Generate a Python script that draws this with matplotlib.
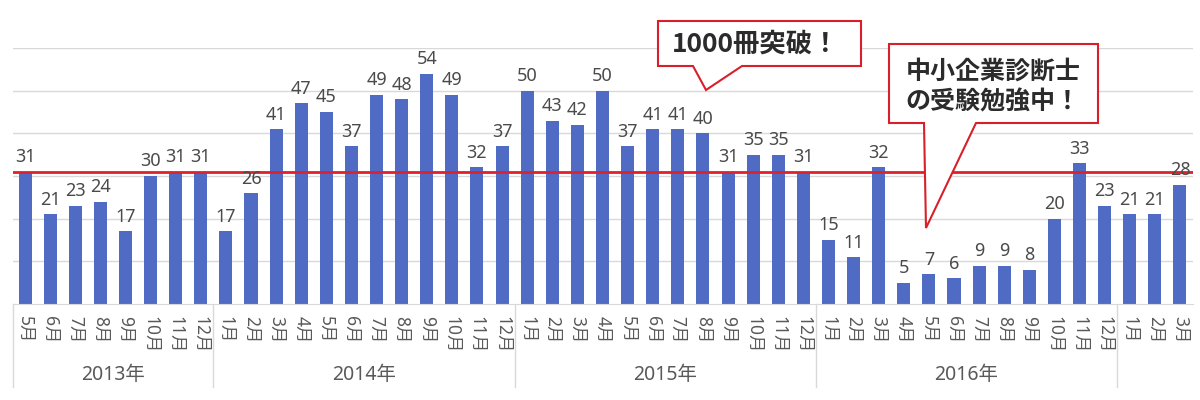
import matplotlib.pyplot as plt
from matplotlib.patches import Polygon
import matplotlib.transforms as mtransforms

plt.rcParams['font.family'] = ['Noto Sans', 'Noto Sans CJK JP', 'DejaVu Sans']

# Monthly counts, May 2013 - Mar 2017
years = ['2013年', '2014年', '2015年', '2016年', '']
months = [
    [5, 6, 7, 8, 9, 10, 11, 12],
    list(range(1, 13)),
    list(range(1, 13)),
    list(range(1, 13)),
    [1, 2, 3],
]
counts = [
    [31, 21, 23, 24, 17, 30, 31, 31],
    [17, 26, 41, 47, 45, 37, 49, 48, 54, 49, 32, 37],
    [50, 43, 42, 50, 37, 41, 41, 40, 31, 35, 35, 31],
    [15, 11, 32, 5, 7, 6, 9, 9, 8, 20, 33, 23],
    [21, 21, 28],
]
ref_line = 31
callout1 = '1000冊突破！'
callout2 = '中小企業診断士\nの受験勉強中！'

values = [v for grp in counts for v in grp]
labels = [f'{m}月' for grp in months for m in grp]
x = list(range(len(values)))

W, H = 1200, 400
fig = plt.figure(figsize=(12, 4), dpi=100)
ax = fig.add_axes([12.5 / W, 1 - 304 / H, 1180 / W, 256 / H])

bar_color = '#4F6BC4'
ax.bar(x, values, width=0.52, color=bar_color, zorder=2)
ax.axhline(ref_line, color='#E0202A', lw=2, zorder=3)

for xi, v in zip(x, values):
    ax.annotate(str(v), (xi, v), xytext=(0, 4), textcoords='offset points',
                ha='center', va='bottom', fontsize=13, color='#4a4a4a', zorder=4)

ax.set_xlim(-0.5, len(values) - 0.5)
ax.set_ylim(0, 60)
ax.set_yticks(range(10, 61, 10))
ax.yaxis.grid(True, color='#d9d9d9', lw=1)
ax.set_axisbelow(True)
ax.tick_params(axis='y', left=False, labelleft=False)
for s in ['top', 'right', 'left']:
    ax.spines[s].set_visible(False)
ax.spines['bottom'].set_color('#d9d9d9')

ax.set_xticks(x)
ax.set_xticklabels(labels, rotation=270, fontsize=12.5, color='#595959')
ax.tick_params(axis='x', length=0, pad=9)
for t in ax.get_xticklabels():
    t.set_va('top')
    t.set_ha('center')

# year groups with separators
trans = mtransforms.blended_transform_factory(ax.transData, ax.transAxes)
start = 0
seps = [-0.5]
for yr, grp in zip(years, counts):
    end = start + len(grp)
    if yr:
        ax.text((start + end - 1) / 2, -0.277, yr, transform=trans, ha='center',
                va='center', fontsize=14, color='#595959')
    start = end
    seps.append(end - 0.5)
for s in seps[:-1]:
    ax.plot([s, s], [0, -0.324], transform=trans, color='#d9d9d9', lw=1, clip_on=False)


def px(pts):
    return [(a / W, 1 - b / H) for a, b in pts]


box1 = [(658, 21), (861, 21), (861, 66), (742, 66), (706, 90), (693, 66), (658, 66)]
box2 = [(889, 44), (1098, 44), (1098, 123), (976, 123), (926, 228), (924, 123), (889, 123)]
for pts in (box1, box2):
    fig.add_artist(Polygon(px(pts), closed=True, transform=fig.transFigure,
                           facecolor='white', edgecolor='#D9202A', lw=1.5, zorder=5))

cjk = ['Noto Sans CJK JP', 'DejaVu Sans']
fig.text(756 / W, 1 - 44 / H, callout1, ha='center', va='center', fontsize=19,
         fontweight='bold', family=cjk, color='#2b2b2b', zorder=6)
fig.text(993 / W, 1 - 87 / H, callout2, ha='center', va='center', fontsize=18,
         fontweight='bold', family=cjk, color='#2b2b2b', linespacing=1.35,
         multialignment='left', zorder=6)

plt.savefig('out.png', dpi=100)
